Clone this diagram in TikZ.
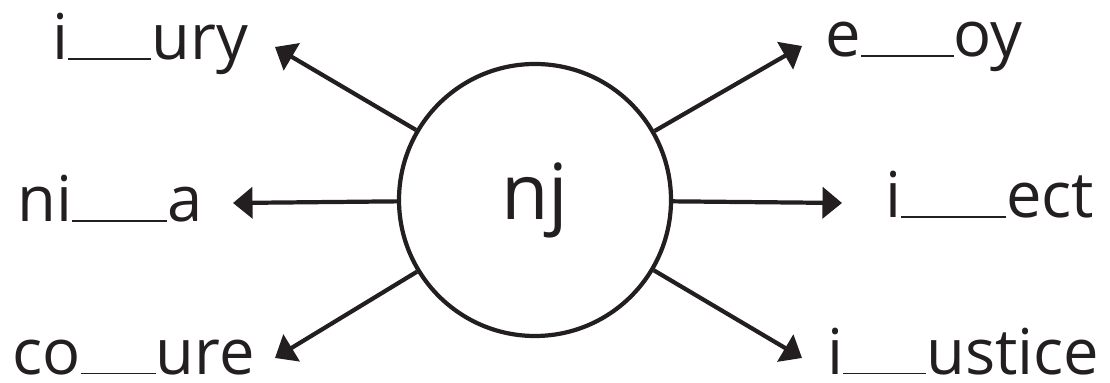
\documentclass[tikz,border=0pt]{standalone}
\usepackage{fontspec}
\setmainfont{Open Sans}
\usetikzlibrary{arrows.meta}
\definecolor{ink}{HTML}{231F20}
\tikzset{
  arr/.style={line width=2.4pt, draw=ink, -{Triangle[length=3.9mm, width=6.2mm]}},
  hub/.style={circle, draw=ink, line width=2.4pt, minimum size=5.44cm, inner sep=0pt,
    text=ink, font=\fontsize{44}{48}\selectfont},
  lbl/.style={anchor=base west, inner sep=0pt, text=ink, font=\fontsize{36}{40}\selectfont},
}
\newcommand{\gap}[1]{\rule{#1}{1.1pt}}

\begin{document}
\begin{tikzpicture}
\useasboundingbox (0,0) rectangle (22.2,7.66);

\node[hub] (hub) at (10.7,3.66) {nj};

% tips of the arrows
\coordinate (tUL) at (5.50,6.72);
\coordinate (tL)  at (4.66,3.60);
\coordinate (tDL) at (5.50,0.50);
\coordinate (tUR) at (16.04,6.74);
\coordinate (tR)  at (16.84,3.60);
\coordinate (tDR) at (16.04,0.50);

% words
\node[lbl] (wUL) at (1.04,6.46) {i\gap{1.66cm}ury};
\node[lbl] (wL)  at (0.34,3.22) {ni\gap{1.9cm}a};
\node[lbl] (wDL) at (0.24,0.17) {co\gap{1.5cm}ure};
\node[lbl] (wUR) at (16.50,6.52) {e\gap{1.86cm}oy};
\node[lbl] (wR)  at (17.70,3.30) {i\gap{2.1cm}ect};
\node[lbl] (wDR) at (16.54,0.17) {i\gap{1.66cm}ustice};

\foreach \t in {tUL,tL,tDL,tUR,tR,tDR} \draw[arr] (hub) -- (\t);

\end{tikzpicture}
\end{document}
